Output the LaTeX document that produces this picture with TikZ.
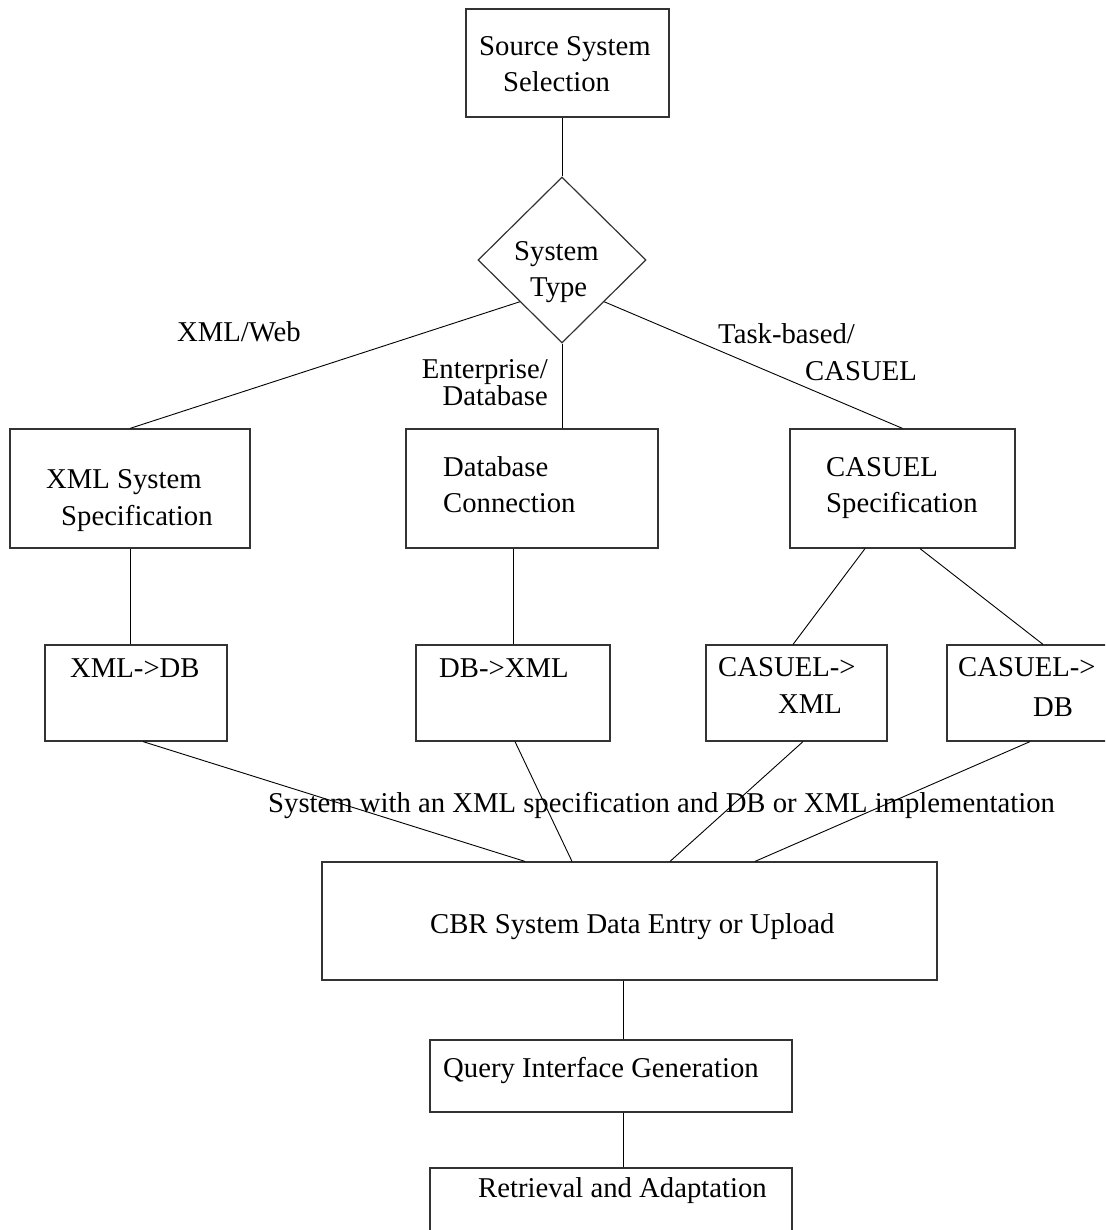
\documentclass[tikz,border=0pt]{standalone}
\usepackage{fontspec}
\setmainfont{Liberation Serif}
\usetikzlibrary{shapes.geometric,calc}
\begin{document}
\begin{tikzpicture}[x=1pt,y=-1pt,
  box/.style={draw=black!80,line width=1.2pt,rectangle,inner sep=0pt},
  lbl/.style={anchor=base west,inner sep=0pt,font=\fontsize{28.7}{34}\selectfont},
  lble/.style={anchor=base east,inner sep=0pt,font=\fontsize{28.7}{34}\selectfont},
  conn/.style={draw=black,line width=0.9pt}]
\useasboundingbox (0,0) rectangle (1105,1230);
\clip (0,0) rectangle (1105,1230);
% boxes
\node[box,minimum width=203pt,minimum height=108pt] (src) at (567.5,63) {};
\node[draw=black!80,line width=1.2pt,diamond,inner sep=0pt,minimum width=168pt,minimum height=166pt] (type) at (562,260) {};
\node[box,minimum width=240pt,minimum height=119pt] (xmlsys) at (130,488.5) {};
\node[box,minimum width=252pt,minimum height=119pt] (dbconn) at (532,488.5) {};
\node[box,minimum width=225pt,minimum height=119pt] (casuel) at (902.5,488.5) {};
\node[box,minimum width=182pt,minimum height=96pt] (xmldb) at (136,693) {};
\node[box,minimum width=194pt,minimum height=96pt] (dbxml) at (513,693) {};
\node[box,minimum width=181pt,minimum height=96pt] (cx) at (796.5,693) {};
\node[box,minimum width=168pt,minimum height=96pt] (cd) at (1031,693) {};
\node[box,minimum width=615pt,minimum height=118pt] (cbr) at (629.5,921) {};
\node[box,minimum width=362pt,minimum height=72pt] (query) at (611,1076) {};
\node[box,minimum width=362pt,minimum height=102pt] (retr) at (611,1219) {};
% texts
\node[lbl] (t1) at (479,56) {Source System};
\node[lbl] (t2) at (503,92) {Selection};
\node[lbl] (t3) at (514,261) {System};
\node[lbl] (t4) at (530,297) {Type};
\node[lbl] (t5) at (177,341) {XML/Web};
\node[lble] (t6) at (548,378) {Enterprise/};
\node[lble] (t7) at (548,405) {Database};
\node[lbl] (t8) at (718,343) {Task-based/};
\node[lbl] (t9) at (805,380) {CASUEL};
\node[lbl] (t10) at (46,488) {XML System};
\node[lbl] (t11) at (61,525) {Specification};
\node[lbl] (t12) at (443,476) {Database};
\node[lbl] (t13) at (443,512) {Connection};
\node[lbl] (t14) at (826,476) {CASUEL};
\node[lbl] (t15) at (826,512) {Specification};
\node[lbl] (t16) at (70,677) {XML->DB};
\node[lbl] (t17) at (439,677) {DB->XML};
\node[lbl] (t18) at (718,676) {CASUEL->};
\node[lbl] (t19) at (778,713) {XML};
\node[lbl] (t20) at (958,676) {CASUEL->};
\node[lbl] (t21) at (1033,716) {DB};
\node[lbl] (t22) at (268,812) {System with an XML specification and DB or XML implementation};
\node[lbl] (t23) at (430,933) {CBR System Data Entry or Upload};
\node[lbl] (t24) at (443,1077) {Query Interface Generation};
\node[lbl] (t25) at (478,1197) {Retrieval and Adaptation};
% connectors
\coordinate (qtop) at ([xshift=12pt]query.north);
\coordinate (rtop) at ([xshift=12pt]retr.north);
\draw[conn] (type.north |- src.south) -- (type.north);
\draw[conn] (type.south west) -- (xmlsys.north);
\draw[conn] (type.south) -- (type.south |- dbconn.north);
\draw[conn] (type.south east) -- (casuel.north);
\draw[conn] (xmlsys.south) -- (xmlsys.south |- xmldb.north);
\draw[conn] (dbxml.north |- dbconn.south) -- (dbxml.north);
\draw[conn] ([xshift=-37.5pt]casuel.south) -- ([xshift=-3.5pt]cx.north);
\draw[conn] ([xshift=17.5pt]casuel.south) -- ([xshift=12pt]cd.north);
\draw[conn] ([xshift=7pt]xmldb.south) -- ([xshift=-104.5pt]cbr.north);
\draw[conn] ([xshift=2pt]dbxml.south) -- ([xshift=-57.5pt]cbr.north);
\draw[conn] ([xshift=6.5pt]cx.south) -- ([xshift=40.5pt]cbr.north);
\draw[conn] ([xshift=-1pt]cd.south) -- ([xshift=125.5pt]cbr.north);
\draw[conn] (qtop |- cbr.south) -- (qtop);
\draw[conn] (rtop |- query.south) -- (rtop);
\end{tikzpicture}
\end{document}
